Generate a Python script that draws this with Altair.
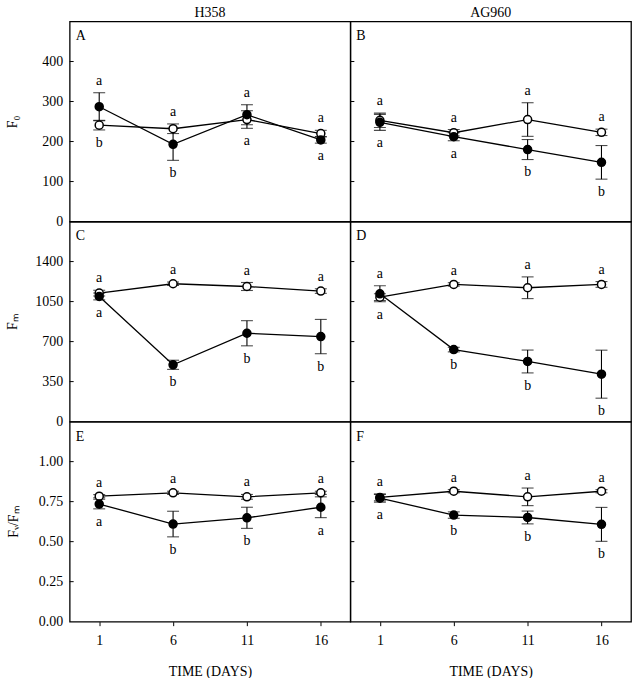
import altair as alt
import pandas as pd

# ---------------- data ----------------
days = [1, 6, 11, 16]
strains = ["H358", "AG960"]
panel_tags = ["A", "B", "C", "D", "E", "F"]

# F0
f0_h358_open = [241, 232, 255, 220]
f0_h358_open_err = [12, 12, 22, 8]
f0_h358_filled = [287, 193, 267, 204]
f0_h358_filled_err = [35, 40, 25, 8]
f0_h358_top = ["a", "a", "a", "a"]
f0_h358_bottom = ["b", "b", "a", "a"]

f0_ag960_open = [253, 222, 255, 223]
f0_ag960_open_err = [18, 8, 42, 8]
f0_ag960_filled = [248, 212, 180, 148]
f0_ag960_filled_err = [20, 10, 25, 42]
f0_ag960_top = ["a", "a", "a", "a"]
f0_ag960_bottom = ["a", "a", "b", "b"]

# Fm
fm_h358_open = [1124, 1206, 1182, 1142]
fm_h358_open_err = [25, 15, 35, 20]
fm_h358_filled = [1095, 497, 773, 744]
fm_h358_filled_err = [30, 40, 110, 150]
fm_h358_top = ["a", "a", "a", "a"]
fm_h358_bottom = ["a", "b", "b", "b"]

fm_ag960_open = [1089, 1200, 1171, 1200]
fm_ag960_open_err = [30, 15, 95, 25]
fm_ag960_filled = [1118, 630, 526, 415]
fm_ag960_filled_err = [70, 20, 100, 210]
fm_ag960_top = ["a", "a", "a", "a"]
fm_ag960_bottom = ["a", "b", "b", "b"]

# Fv/Fm
fvfm_h358_open = [0.784, 0.805, 0.780, 0.805]
fvfm_h358_open_err = [0.010, 0.010, 0.015, 0.010]
fvfm_h358_filled = [0.735, 0.610, 0.649, 0.715]
fvfm_h358_filled_err = [0.030, 0.080, 0.066, 0.065]
fvfm_h358_top = ["a", "a", "a", "a"]
fvfm_h358_bottom = ["a", "b", "b", "a"]

fvfm_ag960_open = [0.776, 0.815, 0.780, 0.815]
fvfm_ag960_open_err = [0.020, 0.010, 0.055, 0.010]
fvfm_ag960_filled = [0.772, 0.666, 0.651, 0.608]
fvfm_ag960_filled_err = [0.025, 0.020, 0.040, 0.106]
fvfm_ag960_top = ["a", "a", "a", "a"]
fvfm_ag960_bottom = ["a", "b", "b", "b"]

f0_ticks = [0, 100, 200, 300, 400]
fm_ticks = [0, 350, 700, 1050, 1400]
fvfm_ticks = [0.0, 0.25, 0.50, 0.75, 1.00]
x_ticks = [1, 6, 11, 16]

FONT = "Liberation Serif"
W, H = 282, 201


def panel(open_v, open_e, fill_v, fill_e, top_l, bot_l, domain, ticks, fmt,
          ytitle, tag, left, bottom, title_pad, col_title=None):
    rows = []
    for d, m, e in zip(days, open_v, open_e):
        rows.append(dict(day=d, series="open", mean=m, lo=m - e, hi=m + e))
    for d, m, e in zip(days, fill_v, fill_e):
        rows.append(dict(day=d, series="filled", mean=m, lo=m - e, hi=m + e))
    df = pd.DataFrame(rows)

    lab = pd.DataFrame({
        "day": days,
        "top_y": [max(o + oe, f + fe) for o, oe, f, fe in zip(open_v, open_e, fill_v, fill_e)],
        "bot_y": [min(o - oe, f - fe) for o, oe, f, fe in zip(open_v, open_e, fill_v, fill_e)],
        "top_l": top_l,
        "bot_l": bot_l,
    })

    xscale = alt.Scale(domain=[-1, 18], nice=False, zero=False)
    yscale = alt.Scale(domain=domain, nice=False, zero=False)

    if bottom:
        xaxis = alt.Axis(values=x_ticks, title="TIME (DAYS)", grid=False, domain=False,
                         tickSize=4, tickColor="black", labelPadding=8,
                         labelFont=FONT, labelFontSize=14, labelColor="black",
                         titleFont=FONT, titleFontSize=14, titleFontWeight="normal",
                         titleColor="black", titlePadding=17)
    else:
        xaxis = None

    if left:
        yaxis = alt.Axis(values=ticks, format=fmt, title=ytitle, grid=False, domain=False,
                         ticks=False, tickSize=0, labelPadding=7,
                         labelFont=FONT, labelFontSize=14, labelColor="black",
                         titleFont=FONT, titleFontSize=14, titleFontWeight="normal",
                         titleColor="black", titlePadding=title_pad)
    else:
        yaxis = None

    x = alt.X("day:Q", scale=xscale, axis=xaxis)
    base = alt.Chart(df)

    lines = base.mark_line(color="black", strokeWidth=1.3).encode(
        x=x, y=alt.Y("mean:Q", scale=yscale, axis=yaxis), detail="series:N")
    bars = base.mark_rule(color="black", strokeWidth=1.1).encode(
        x=x, y=alt.Y("lo:Q", scale=yscale), y2="hi:Q")
    cap_hi = base.mark_tick(color="black", thickness=1.1, size=12, orient="horizontal").encode(
        x=x, y=alt.Y("hi:Q", scale=yscale))
    cap_lo = base.mark_tick(color="black", thickness=1.1, size=12, orient="horizontal").encode(
        x=x, y=alt.Y("lo:Q", scale=yscale))
    pts = base.mark_point(filled=False, size=65, stroke="black", strokeWidth=1.5, opacity=1).encode(
        x=x, y=alt.Y("mean:Q", scale=yscale),
        fill=alt.Fill("series:N", scale=alt.Scale(domain=["filled", "open"], range=["black", "white"]),
                      legend=None))

    top_txt = alt.Chart(lab).mark_text(font=FONT, fontSize=14, fill="black",
                                       baseline="alphabetic", dy=-8).encode(
        x=x, y=alt.Y("top_y:Q", scale=yscale), text="top_l:N")
    bot_txt = alt.Chart(lab).mark_text(font=FONT, fontSize=14, fill="black",
                                       baseline="top", dy=6).encode(
        x=x, y=alt.Y("bot_y:Q", scale=yscale), text="bot_l:N")

    tick_df = pd.DataFrame({"v": ticks[1:]})
    in_ticks = alt.Chart(tick_df).mark_rule(color="black", strokeWidth=1).encode(
        y=alt.Y("v:Q", scale=yscale), x=alt.value(0), x2=alt.value(4))

    tag_txt = alt.Chart(pd.DataFrame({"t": [tag]})).mark_text(
        font=FONT, fontSize=14, fill="black", align="left", baseline="top").encode(
        text="t:N", x=alt.value(6), y=alt.value(8))

    ch = alt.layer(lines, bars, cap_hi, cap_lo, pts, top_txt, bot_txt, in_ticks, tag_txt).properties(
        width=W, height=H)
    if col_title:
        ch = ch.properties(title=alt.TitleParams(col_title, font=FONT, fontSize=14,
                                                 fontWeight="normal", color="black", offset=2))
    return ch


pA = panel(f0_h358_open, f0_h358_open_err, f0_h358_filled, f0_h358_filled_err,
           f0_h358_top, f0_h358_bottom, [0, 500], f0_ticks, "d", "F₀", panel_tags[0],
           True, False, 22, strains[0])
pB = panel(f0_ag960_open, f0_ag960_open_err, f0_ag960_filled, f0_ag960_filled_err,
           f0_ag960_top, f0_ag960_bottom, [0, 500], f0_ticks, "d", "F₀", panel_tags[1],
           False, False, 22, strains[1])
pC = panel(fm_h358_open, fm_h358_open_err, fm_h358_filled, fm_h358_filled_err,
           fm_h358_top, fm_h358_bottom, [0, 1750], fm_ticks, "d", "Fₘ", panel_tags[2],
           True, False, 15)
pD = panel(fm_ag960_open, fm_ag960_open_err, fm_ag960_filled, fm_ag960_filled_err,
           fm_ag960_top, fm_ag960_bottom, [0, 1750], fm_ticks, "d", "Fₘ", panel_tags[3],
           False, False, 15)
pE = panel(fvfm_h358_open, fvfm_h358_open_err, fvfm_h358_filled, fvfm_h358_filled_err,
           fvfm_h358_top, fvfm_h358_bottom, [0, 1.25], fvfm_ticks, ".2f", "Fᵥ/Fₘ", panel_tags[4],
           True, True, 18)
pF = panel(fvfm_ag960_open, fvfm_ag960_open_err, fvfm_ag960_filled, fvfm_ag960_filled_err,
           fvfm_ag960_top, fvfm_ag960_bottom, [0, 1.25], fvfm_ticks, ".2f", "Fᵥ/Fₘ", panel_tags[5],
           False, True, 18)

chart = alt.concat(pA, pB, pC, pD, pE, pF, columns=2, spacing=0, bounds="flush").properties(
    padding={"left": 5, "top": 3, "right": 4, "bottom": 0}
).configure(background="white", font=FONT).configure_view(stroke="black", strokeWidth=1.3)

chart.save("out.html", embed_options={"renderer": "svg", "actions": False})
